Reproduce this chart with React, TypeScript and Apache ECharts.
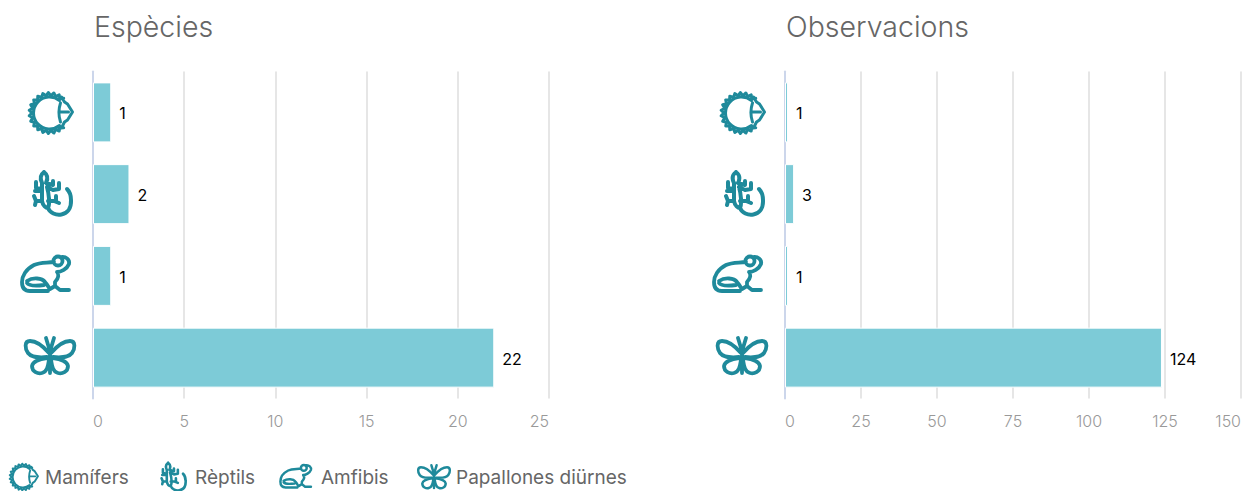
import React, { useEffect, useRef } from "react";
import * as echarts from "echarts";

const categories = ["Mamífers", "Rèptils", "Amfibis", "Papallones diürnes"];
const speciesValues = [1, 2, 1, 22];
const observationValues = [1, 3, 1, 124];
const chartTitles = ["Espècies", "Observacions"];
const iconNames = ["icoHedgehog", "icoLizard", "icoFrog", "icoButterfly"];

const TEAL = "#1f8a9b";
const BAR = "#7dcbd7";
const FONT = "Inter, 'Noto Sans', sans-serif";

function hedgehogPath() {
  let d = "";
  const n = 34;
  for (let i = 0; i <= n; i++) {
    const a = ((46 + (268 * i) / n) * Math.PI) / 180;
    const r = i % 2 === 0 ? 20.5 : 17.5;
    const x = (r * Math.cos(a)).toFixed(1);
    const y = (r * Math.sin(a)).toFixed(1);
    d += (i === 0 ? "M" : "L") + x + " " + y + " ";
  }
  // inner ring that thickens the spiny coat
  d += "M10 -12.5 A16 16 0 1 0 10 12.5 ";
  d += "M12 -16 L15 -11 L18 -9 L23 -1 L18 7 L15 9 L12 15 ";
  d += "M11 -10 C9 -4 9 3 11 9 M11 -1 L19 -1";
  return d;
}

const iconPaths = [
  hedgehogPath(),
  // lizard
  "M-6 -22 C-10 -19 -10 -15 -8 -11 L-8 -5 L-14 -6 L-14 -12 M-8 -3 L-15 -3 " +
    "M-6 -22 C-2 -19 -2 -15 -4 -11 L3 -9 L3 -13 M-3 -7 L3 -4 L9 -5 L9 -11 " +
    "M-8 -5 L-8 7 L-14 7 L-16 2 M-14 7 L-15 11 M-8 7 C-7 12 -4 14 -2 14 C0 10 -1 0 -3 -7 " +
    "M-2 7 L6 7 L6 2 M4 7 L9 9 M-2 14 C2 24 22 24 21 6 C21 1 19 -3 17 -5",
  // frog
  "M7.5 -14 A4.5 4.5 0 0 1 16.5 -14 A4.5 4.5 0 0 1 7.5 -14 " +
    "M8 -13 C0 -12 -6 -13 -12 -10 C-20 -6 -24 1 -24 7 C-24 13 -21 16 -16 16 L2 16 " +
    "M15 -18 C20 -19 24 -15 23 -11 C21 -6 15 -3 11 -3 C13 -1 13 3 9 7 L9 11 L14 15 L23 15 " +
    "M9 11 L4 14 M-19 6 C-13 2 -4 3 -1 7 C2 10 2 12 4 14 M-19 8 C-17 11 -10 11 -2 10",
  // butterfly
  "M-4 -18 L-1 -8 M4 -18 L1 -8 M0 -8 L0 17 " +
    "M-1 -3 C-7 -10 -13 -15 -20 -15 C-26 -15 -25 -7 -22 -3 C-19 1 -14 2 -3 1 " +
    "M1 -3 C7 -10 13 -15 20 -15 C26 -15 25 -7 22 -3 C19 1 14 2 3 1 " +
    "M-3 2 C-10 3 -17 5 -18 10 C-18 16 -12 18 -8 17 C-3 16 -2 10 -1 4 " +
    "M3 2 C10 3 17 5 18 10 C18 16 12 18 8 17 C3 16 2 10 1 4",
];

iconNames.forEach((name, i) => {
  echarts.graphic.registerShape(name, echarts.graphic.extendPath(iconPaths[i], {}));
});

const axisIconCentres: [number, number][] = [
  [49.5, 113],
  [50, 194],
  [46, 275],
  [50, 356],
];
const iconStrokes = [3, 4, 3.8, 3.8];
const legendIconX = [23, 172, 296, 434];
const legendTextX = [45, 195, 321, 456];
const chartLeft = [93, 785];
const chartWidth = 456;

function icon(i: number, x: number, y: number, scale: number, lw: number) {
  return {
    type: iconNames[i],
    x,
    y,
    scaleX: scale,
    scaleY: scale,
    silent: true,
    style: { fill: "none", stroke: TEAL, lineWidth: lw, lineJoin: "round", lineCap: "round" },
  };
}

function buildOption() {
  const grids = chartLeft.map((left) => ({ left, width: chartWidth, top: 71.5, height: 327, containLabel: false }));
  const xAxes = [
    { max: 25, interval: 5 },
    { max: 150, interval: 25 },
  ].map((a, i) => ({
    type: "value",
    gridIndex: i,
    min: 0,
    max: a.max,
    interval: a.interval,
    axisLine: { show: false },
    axisTick: { show: false },
    splitLine: { show: true, lineStyle: { color: "#e6e6e6", width: 2 } },
    axisLabel: {
      color: "#999999",
      fontFamily: FONT,
      fontWeight: 300,
      fontSize: 16,
      margin: 14,
      alignMinLabel: "left",
      alignMaxLabel: "right",
      showMinLabel: true,
      showMaxLabel: true,
    },
  }));
  const yAxes = [0, 1].map((i) => ({
    type: "category",
    gridIndex: i,
    inverse: true,
    data: categories,
    axisLabel: { show: false },
    axisTick: { show: false },
    axisLine: { show: true, lineStyle: { color: "#ccd6eb", width: 2 } },
    splitLine: { show: false },
  }));
  const series = [speciesValues, observationValues].map((values, i) => ({
    type: "bar",
    name: chartTitles[i],
    xAxisIndex: i,
    yAxisIndex: i,
    data: values,
    barWidth: 60,
    itemStyle: { color: BAR, borderColor: "#ffffff", borderWidth: 1 },
    label: {
      show: true,
      position: "right",
      distance: 8,
      offset: [0, 1],
      color: "#000000",
      fontFamily: FONT,
      fontSize: 16,
    },
  }));
  const elements: any[] = [];
  chartTitles.forEach((t, i) => {
    elements.push({
      type: "text",
      x: chartLeft[i] + 1,
      y: 26,
      silent: true,
      style: { text: t, font: `300 28.5px ${FONT}`, fill: "#666666", verticalAlign: "middle" },
    });
    axisIconCentres.forEach((c, k) => {
      elements.push(icon(k, c[0] + chartLeft[i] - chartLeft[0], c[1], 1, iconStrokes[k]));
    });
  });
  categories.forEach((c, k) => {
    elements.push(icon(k, legendIconX[k], 477, 0.65, iconStrokes[k]));
    elements.push({
      type: "text",
      x: legendTextX[k],
      y: 477,
      silent: true,
      style: { text: c, font: `400 19px ${FONT}`, fill: "#666666", verticalAlign: "middle" },
    });
  });
  return {
    animation: false,
    backgroundColor: "#ffffff",
    grid: grids,
    xAxis: xAxes,
    yAxis: yAxes,
    series,
    graphic: { elements },
  };
}

export default function App() {
  const ref = useRef<HTMLDivElement>(null);
  useEffect(() => {
    document.body.style.margin = "0";
    const chart = echarts.init(ref.current!, null, { renderer: "svg" });
    chart.setOption(buildOption() as any);
    return () => chart.dispose();
  }, []);
  return <div ref={ref} style={{ width: 1250, height: 491 }} />;
}
